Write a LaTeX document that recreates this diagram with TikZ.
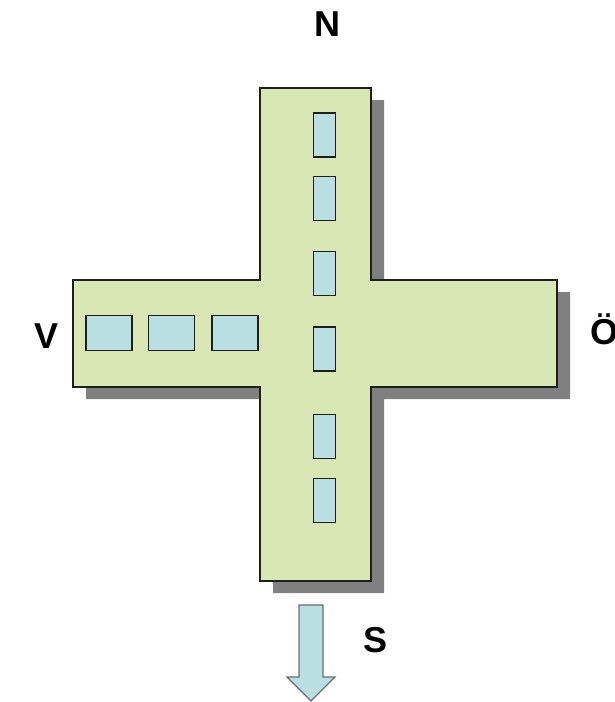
\documentclass[tikz,border=0pt]{standalone}
\usepackage{fontspec}
\setmainfont{Liberation Sans}
\definecolor{padgreen}{HTML}{D8E7B3}
\definecolor{roomblue}{HTML}{B9DFE2}
\definecolor{shadowgray}{HTML}{808080}
\definecolor{edgedark}{HTML}{1E1E1E}
\begin{document}
\begin{tikzpicture}[x=1pt,y=-1pt,
  compass/.style={font=\bfseries\fontsize{36}{36}\selectfont, inner sep=0pt},
  roomh/.style={draw=edgedark, line width=1.6pt, fill=roomblue, minimum width=46pt, minimum height=35pt, inner sep=0pt},
  roomv/.style={draw=edgedark, line width=1.6pt, fill=roomblue, minimum width=22pt, minimum height=44pt, inner sep=0pt}]
\useasboundingbox (0,0) rectangle (615,702);
% drop shadow of the cross
\fill[shadowgray, shift={(13,12)}]
  (260,88) -- (371,88) -- (371,280) -- (557,280) -- (557,387) -- (371,387)
  -- (371,581) -- (260,581) -- (260,387) -- (73,387) -- (73,280) -- (260,280) -- cycle;
% the cross itself
\draw[fill=padgreen, draw=edgedark, line width=1.6pt]
  (260,88) -- (371,88) -- (371,280) -- (557,280) -- (557,387) -- (371,387)
  -- (371,581) -- (260,581) -- (260,387) -- (73,387) -- (73,280) -- (260,280) -- cycle;
% rooms along the west arm
\node[roomh] (w1) at (109,333) {};
\node[roomh] (w2) at (171.5,333) {};
\node[roomh] (w3) at (235,333) {};
% rooms along the north-south axis
\node[roomv] (v1) at (324.5,135) {};
\node[roomv] (v2) at (324.5,198.5) {};
\node[roomv] (v3) at (324.5,273.5) {};
\node[roomv] (v4) at (324.5,349) {};
\node[roomv] (v5) at (324.5,436.5) {};
\node[roomv] (v6) at (324.5,500.5) {};
% arrow pointing south
\draw[fill=roomblue, draw=gray!85!black, line width=1.2pt, line join=miter]
  (299,605) -- (323,605) -- (323,677) -- (335,677) -- (311,701) -- (287,677) -- (299,677) -- cycle;
% compass letters
\node[compass] (n) at (327,24) {N};
\node[compass] (s) at (376,640) {S};
\node[compass] (w) at (47,336) {V};
\node[compass] (e) at (604,329) {Ö};
\end{tikzpicture}
\end{document}
